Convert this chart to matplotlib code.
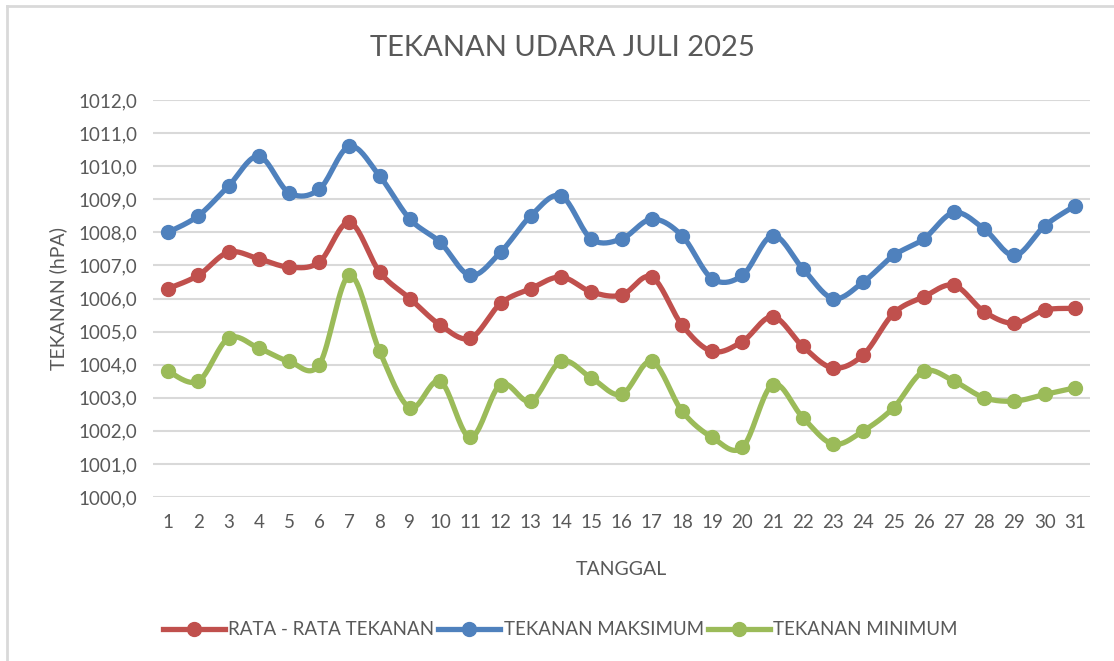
import numpy as np
import matplotlib
matplotlib.use("Agg")
import matplotlib.pyplot as plt
from matplotlib.lines import Line2D

plt.rcParams['font.family'] = ['Lato', 'DejaVu Sans']

# data
tanggal = list(range(1, 32))
rata_rata = [1006.3, 1006.7, 1007.4, 1007.2, 1006.95, 1007.1, 1008.3, 1006.8, 1006.0, 1005.2,
             1004.8, 1005.85, 1006.3, 1006.65, 1006.2, 1006.1, 1006.65, 1005.2, 1004.4, 1004.7,
             1005.45, 1004.55, 1003.9, 1004.3, 1005.55, 1006.05, 1006.4, 1005.6, 1005.25, 1005.65,
             1005.7]
maksimum = [1008.0, 1008.5, 1009.4, 1010.3, 1009.2, 1009.3, 1010.6, 1009.7, 1008.4, 1007.7,
            1006.7, 1007.4, 1008.5, 1009.1, 1007.8, 1007.8, 1008.4, 1007.9, 1006.6, 1006.7,
            1007.9, 1006.9, 1006.0, 1006.5, 1007.3, 1007.8, 1008.6, 1008.1, 1007.3, 1008.2,
            1008.8]
minimum = [1003.8, 1003.5, 1004.8, 1004.5, 1004.1, 1004.0, 1006.7, 1004.4, 1002.7, 1003.5,
           1001.8, 1003.4, 1002.9, 1004.1, 1003.6, 1003.1, 1004.1, 1002.6, 1001.8, 1001.5,
           1003.4, 1002.4, 1001.6, 1002.0, 1002.7, 1003.8, 1003.5, 1003.0, 1002.9, 1003.1,
           1003.3]
series_names = ['RATA - RATA TEKANAN', 'TEKANAN MAKSIMUM', 'TEKANAN MINIMUM']
colors = ['#C0504D', '#4F81BD', '#9BBB59']
text_color = '#595959'


def smooth(x, y, n=20):
    # catmull-rom spline, like Excel's smoothed line
    x = np.asarray(x, float)
    y = np.asarray(y, float)
    px = np.concatenate([[x[0]], x, [x[-1]]])
    py = np.concatenate([[y[0]], y, [y[-1]]])
    xs, ys = [], []
    t = np.linspace(0, 1, n, endpoint=False)
    for i in range(1, len(px) - 2):
        p0, p1, p2, p3 = px[i - 1], px[i], px[i + 1], px[i + 2]
        q0, q1, q2, q3 = py[i - 1], py[i], py[i + 1], py[i + 2]
        b1x, b1y = p1 + (p2 - p0) / 6, q1 + (q2 - q0) / 6
        b2x, b2y = p2 - (p3 - p1) / 6, q2 - (q3 - q1) / 6
        xs.append((1 - t) ** 3 * p1 + 3 * (1 - t) ** 2 * t * b1x + 3 * (1 - t) * t ** 2 * b2x + t ** 3 * p2)
        ys.append((1 - t) ** 3 * q1 + 3 * (1 - t) ** 2 * t * b1y + 3 * (1 - t) * t ** 2 * b2y + t ** 3 * q2)
    xs.append([x[-1]])
    ys.append([y[-1]])
    return np.concatenate(xs), np.concatenate(ys)


fig = plt.figure(figsize=(11.14, 6.61), dpi=100)
ax = fig.add_axes([0.1373, 0.2481, 0.8412, 0.6006])

for vals, c in zip([rata_rata, maksimum, minimum], colors):
    sx, sy = smooth(tanggal, vals)
    ax.plot(sx, sy, color=c, lw=3.8, solid_capstyle='round', zorder=3)
    ax.plot(tanggal, vals, 'o', color=c, ms=10, zorder=4)

ax.set_xlim(0.5, 31.5)
ax.set_ylim(1000, 1012)
ax.set_yticks(np.arange(1000, 1012.5, 1))
ax.set_yticklabels([f"{v:.1f}".replace('.', ',') for v in np.arange(1000, 1012.5, 1)])
ax.set_xticks(tanggal)
ax.grid(axis='y', color='#D9D9D9', lw=1.5)
ax.set_axisbelow(True)
for s in ax.spines.values():
    s.set_visible(False)
ax.tick_params(length=0, labelsize=13.5, colors=text_color, pad=11)
ax.tick_params(axis='x', pad=12)

ax.set_xlabel('TANGGAL', fontsize=14, color=text_color, labelpad=22)
ax.set_ylabel('TEKANAN (hPA)', fontsize=14, color=text_color, labelpad=8)
fig.text(0.505, 0.928, 'TEKANAN UDARA JULI 2025', ha='center', va='center',
         fontsize=21, color=text_color)

handles = [Line2D([0], [0], color=c, lw=3.8, marker='o', ms=10) for c in colors]
fig.legend(handles, series_names, loc='center', bbox_to_anchor=(0.503, 0.047),
           ncol=3, frameon=False, fontsize=13.5, handlelength=3.3,
           handletextpad=0.2, columnspacing=0.2, labelcolor=text_color)

# light border around the chart area
fig.add_artist(Line2D([7 / 1114, 7 / 1114], [0, 1 - 6 / 661], color='#D9D9D9', lw=2,
                      transform=fig.transFigure))
fig.add_artist(Line2D([7 / 1114, 1], [1 - 6 / 661, 1 - 6 / 661], color='#D9D9D9', lw=2,
                      transform=fig.transFigure))

fig.savefig('out.png', dpi=100)
